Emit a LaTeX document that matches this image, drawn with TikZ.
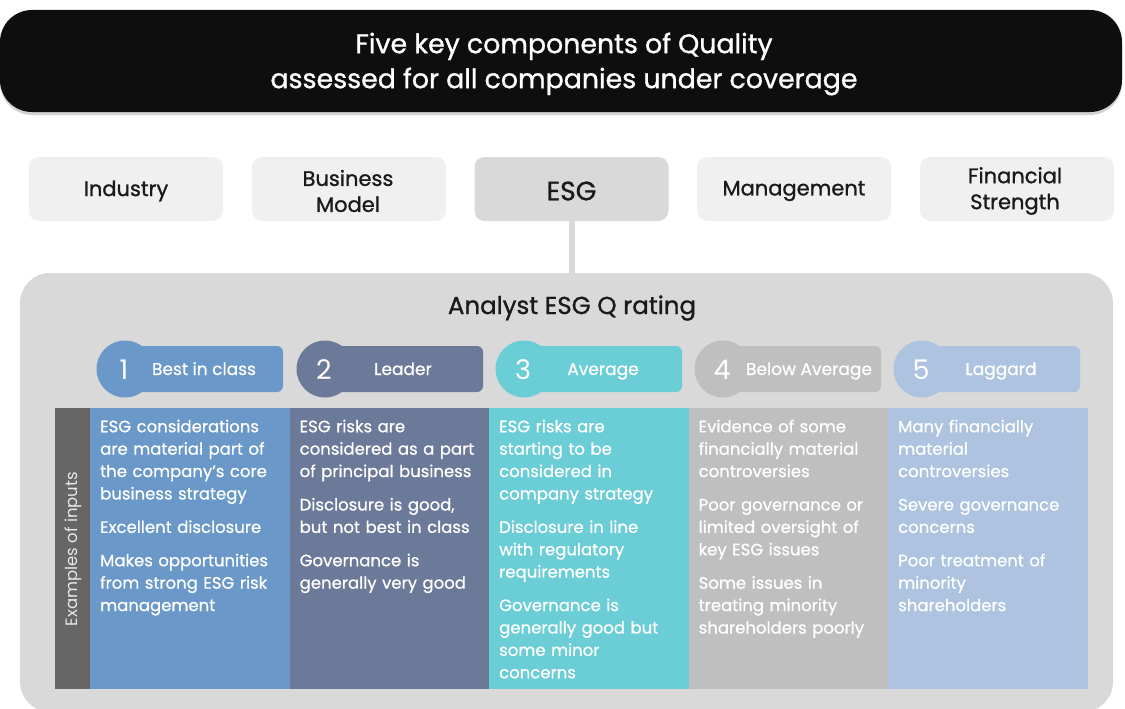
\documentclass[tikz,border=0pt]{standalone}
\usepackage{fontspec}
\setmainfont{Poppins}
\newfontfamily\medfont[FakeBold=1.0]{Poppins}
\newfontfamily\semifont[FakeBold=0.7]{Poppins}
\usetikzlibrary{shadows}
\definecolor{cA}{HTML}{6A98C8}
\definecolor{cB}{HTML}{6B7A99}
\definecolor{cC}{HTML}{6BCDD6}
\definecolor{cD}{HTML}{BFBFBF}
\definecolor{cE}{HTML}{ADC3E0}
\definecolor{panelgray}{HTML}{D9D9D9}
\definecolor{hboxgray}{HTML}{F0F0F0}
\definecolor{stripgray}{HTML}{666666}
\definecolor{ink}{HTML}{0E0E0E}
\definecolor{dark}{HTML}{1A1A1A}
\begin{document}
\begin{tikzpicture}[x=1pt,y=-1pt,
  banner/.style={rectangle, rounded corners=32pt, fill=ink, inner sep=0pt,
    minimum width=1122pt, minimum height=102pt,
    drop shadow={opacity=0.35, shadow xshift=0pt, shadow yshift=-3pt}},
  bannertextstyle/.style={text=white, align=center, inner sep=0pt,
    font=\medfont\fontsize{26.8}{35}\selectfont},
  hbox/.style={rectangle, rounded corners=10pt, fill=hboxgray, inner sep=0pt,
    minimum width=194pt, minimum height=64pt},
  htext/.style={text=dark, align=center, inner sep=0pt,
    font=\medfont\fontsize{21}{26}\selectfont},
  panelbox/.style={rectangle, rounded corners=30pt, fill=panelgray, inner sep=0pt,
    minimum width=1093pt, minimum height=439pt},
  pillcirc/.style={circle, inner sep=0pt, minimum size=57pt},
  pillnum/.style={anchor=base, text=white, inner sep=0pt, font=\fontsize{27}{30}\selectfont},
  pillrect/.style={rectangle, rounded corners=6pt, inner sep=0pt,
    minimum width=158pt, minimum height=46pt},
  pilltext/.style={anchor=base, text=white, inner sep=0pt, font=\semifont\fontsize{17}{20}\selectfont},
  colbox/.style={rectangle, inner sep=0pt, minimum width=199.6pt, minimum height=281pt},
  coltext/.style={anchor=north west, inner sep=0pt, text=white, align=left,
    text width=188pt, font=\semifont\fontsize{16.5}{22.4}\selectfont},
  link/.style={draw=panelgray, line width=6pt}
]
\useasboundingbox (0,0) rectangle (1125,709);

% banner
\node[banner] (banner) at (561,61) {};
\node[bannertextstyle] (bannertext) at (564,64) {Five key components of Quality\\assessed for all companies under coverage};

% header boxes
\node[hbox] (industry) at (126,189) {};
\node[htext] (industryt) at (126,191) {Industry};
\node[hbox] (business) at (349,189) {};
\node[htext] (businesst) at (348,191) {Business\\Model};
\node[hbox, fill=panelgray] (esg) at (571.5,189) {};
\node[htext, font=\medfont\fontsize{26.5}{30}\selectfont] (esgt) at (571.5,191) {ESG};
\node[hbox] (management) at (794,189) {};
\node[htext] (managementt) at (794,191) {Management};
\node[hbox] (financial) at (1017,189) {};
\node[htext] (financialt) at (1015,191) {Financial\\Strength};

% panel
\node[panelbox] (panel) at (566.5,492.5) {};
\draw[link] (esg.south) -- (esg.south |- panel.north);

\node[text=dark, inner sep=0pt, font=\medfont\fontsize{24.5}{28}\selectfont] (title) at (572,308) {Analyst ESG Q rating};

% pills
\node[pillrect, fill=cA] (r1) at (204,369) {};
\node[pillcirc, fill=cA] (n1) at (125,369) {};
\node[pillnum] (d1) at (124,379) {1};
\node[pilltext] (l1) at (204,375) {Best in class};

\node[pillrect, fill=cB] (r2) at (404,369) {};
\node[pillcirc, fill=cB] (n2) at (325,369) {};
\node[pillnum] (d2) at (324,379) {2};
\node[pilltext] (l2) at (403,375) {Leader};

\node[pillrect, fill=cC] (r3) at (603,369) {};
\node[pillcirc, fill=cC] (n3) at (524,369) {};
\node[pillnum] (d3) at (523,379) {3};
\node[pilltext] (l3) at (603,375) {Average};

\node[pillrect, fill=cD] (r4) at (802,369) {};
\node[pillcirc, fill=cD] (n4) at (723,369) {};
\node[pillnum] (d4) at (722,379) {4};
\node[pilltext] (l4) at (809,375) {Below Average};

\node[pillrect, fill=cE] (r5) at (1001,369) {};
\node[pillcirc, fill=cE] (n5) at (922,369) {};
\node[pillnum] (d5) at (921,379) {5};
\node[pilltext] (l5) at (1001,375) {Laggard};

% left strip
\node[rectangle, fill=stripgray, inner sep=0pt, minimum width=35pt, minimum height=281pt] (strip) at (72.5,548.5) {};
\node[rotate=90, text=white!85!stripgray, inner sep=0pt, font=\fontsize{16.5}{20}\selectfont] (striplabel) at (73,549) {Examples of inputs};

% columns
\node[colbox, fill=cA] (c1) at (189.8,548.5) {};
\node[colbox, fill=cB] (c2) at (389.4,548.5) {};
\node[colbox, fill=cC] (c3) at (589,548.5) {};
\node[colbox, fill=cD] (c4) at (788.6,548.5) {};
\node[colbox, fill=cE] (c5) at (988.2,548.5) {};

\node[coltext] (t1) at (100,419.5) {ESG considerations\\are material part of\\the company’s core\\business strategy\\[11pt]Excellent disclosure\\[11pt]Makes opportunities\\from strong ESG risk\\management};
\node[coltext] (t2) at (299.5,419.5) {ESG risks are\\considered as a part\\of principal business\\[11pt]Disclosure is good,\\but not best in class\\[11pt]Governance is\\generally very good};
\node[coltext] (t3) at (499,419.5) {ESG risks are\\starting to be\\considered in\\company strategy\\[11pt]Disclosure in line\\with regulatory\\requirements\\[11pt]Governance is\\generally good but\\some minor\\concerns};
\node[coltext] (t4) at (698.5,419.5) {Evidence of some\\financially material\\controversies\\[11pt]Poor governance or\\limited oversight of\\key ESG issues\\[11pt]Some issues in\\treating minority\\shareholders poorly};
\node[coltext] (t5) at (898,419.5) {Many financially\\material\\controversies\\[11pt]Severe governance\\concerns\\[11pt]Poor treatment of\\minority\\shareholders};
\end{tikzpicture}
\end{document}
